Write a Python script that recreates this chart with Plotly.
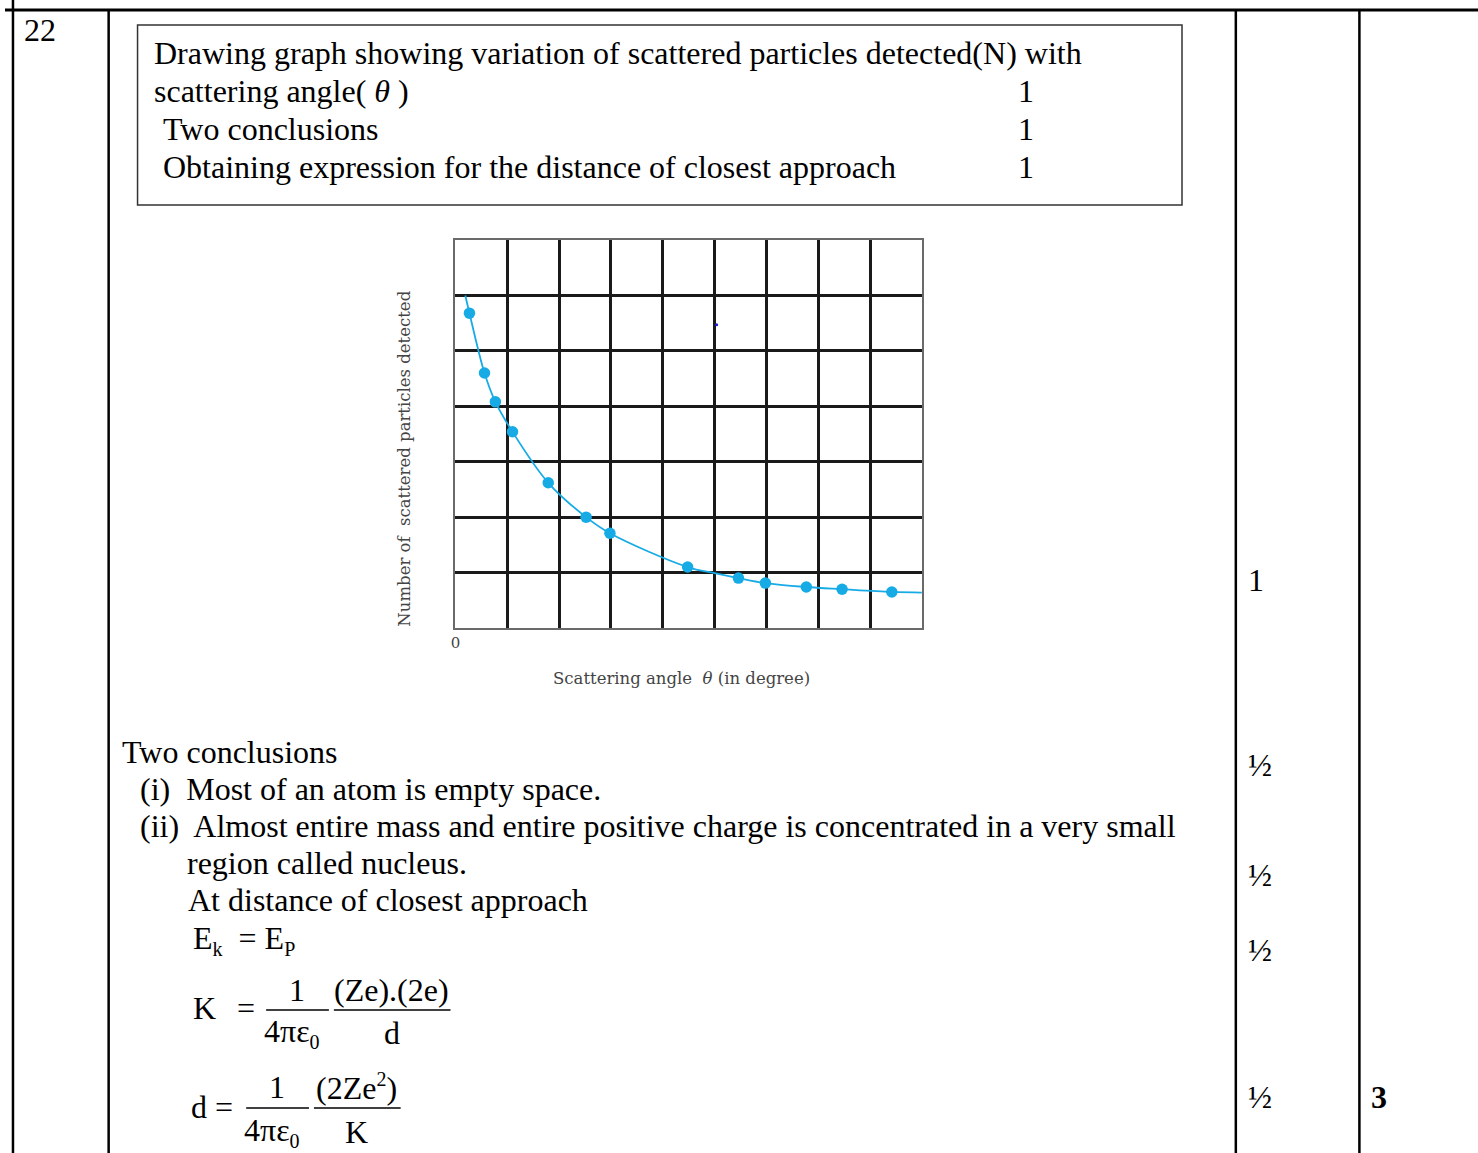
import plotly.graph_objects as go

# ---------------- data (grid units) ----------------
theta_pts = [0.27, 0.56, 0.77, 1.10, 1.79, 2.52, 2.98, 4.48, 5.46, 5.98, 6.77, 7.46, 8.42]
n_pts = [5.68, 4.60, 4.08, 3.54, 2.62, 2.00, 1.71, 1.10, 0.90, 0.81, 0.74, 0.70, 0.65]

theta_curve = [0.19, 0.27, 0.56, 0.77, 1.10, 1.79, 2.52, 2.98, 4.48, 5.00, 5.46, 5.98, 6.77, 7.46, 8.42, 9.00]
n_curve = [6.00, 5.68, 4.60, 4.08, 3.54, 2.62, 2.00, 1.71, 1.10, 0.99, 0.90, 0.81, 0.74, 0.70, 0.65, 0.64]

x_tick_vals = [0, 1, 2, 3, 4, 5, 6, 7, 8, 9]
x_tick_text = ["0", "", "", "", "", "", "", "", "", ""]
y_tick_vals = [0, 1, 2, 3, 4, 5, 6, 7]

stray_x = [5.04]
stray_y = [5.47]

W, H = 1478, 1153
SERIF = "Liberation Serif, Times New Roman, serif"
CHART_FONT = "DejaVu Serif, serif"
BLUE = "#17ABE6"
FS = 32


def px(x):
    return x / W


def py(y):
    return 1 - y / H


fig = go.Figure()

fig.add_trace(go.Scatter(
    x=theta_curve, y=n_curve, mode="lines",
    line=dict(color=BLUE, width=1.8, shape="spline", smoothing=1.0),
    hoverinfo="skip", showlegend=False))
fig.add_trace(go.Scatter(
    x=theta_pts, y=n_pts, mode="markers",
    marker=dict(color=BLUE, size=11.5), showlegend=False))
fig.add_trace(go.Scatter(
    x=stray_x, y=stray_y, mode="markers",
    marker=dict(color="#2020e0", size=3), showlegend=False))

fig.update_xaxes(
    domain=[px(452), px(920)], range=[0, 9],
    tickvals=x_tick_vals, ticktext=x_tick_text, ticks="",
    tickfont=dict(family=CHART_FONT, size=15, color="#444"),
    showgrid=True, gridcolor="#1a1a1a", gridwidth=2.5,
    showline=True, mirror=True, linecolor="#6a6a6a", linewidth=2,
    zeroline=False, fixedrange=True)
fig.update_yaxes(
    domain=[py(628), py(240)], range=[0, 7],
    tickvals=y_tick_vals, showticklabels=False, ticks="",
    showgrid=True, gridcolor="#1a1a1a", gridwidth=2.5,
    showline=True, mirror=True, linecolor="#6a6a6a", linewidth=2,
    zeroline=False, fixedrange=True)

ann = []
DX = 5  # annotation box padding compensation


def text(x, y, s, size=FS, family=SERIF, color="black", anchor="left", angle=0):
    xx = x - DX if anchor == "left" else x
    ann.append(dict(x=px(xx), y=py(y), xref="paper", yref="paper", text=s,
                    showarrow=False, xanchor=anchor, yanchor="middle",
                    textangle=angle,
                    font=dict(family=family, size=size, color=color)))


def sub(s):
    return "<sub><span style='font-size:20px'>" + s + "</span></sub>"


# question number
text(22, 30, "22")

# marking scheme box
text(153, 53, "Drawing graph showing variation of scattered particles detected(N) with")
text(153, 91, "scattering angle( <i>θ</i> )")
text(162, 129, "Two conclusions")
text(162, 167, "Obtaining expression for the distance of closest approach")
for yy in (91, 129, 167):
    text(1019, yy, "1")

# chart labels
text(400, 459, "Number of  scattered particles detected", size=16.5, family=CHART_FONT,
     color="#444", anchor="center", angle=-90)
text(679, 678, "Scattering angle  <i>θ</i> (in degree)", size=16.5, family=CHART_FONT,
     color="#444", anchor="center")

# conclusions
text(120, 752, "Two conclusions")
text(138, 789, "(i)  Most of an atom is empty space.")
text(138, 826, "(ii)  Almost entire mass and entire positive charge is concentrated in a very small")
text(186, 863, "region called nucleus.")
text(187, 900, "At distance of closest approach")
text(192, 940, "E" + sub("k") + "  = E" + sub("P"))

# K = 1/(4πε0) (Ze)(2e)/d
text(192, 1008, "K")
text(236, 1008, "=")
text(293, 990, "1", anchor="center")
text(263, 1033, "4πε" + sub("0"))
text(388, 990, "(Ze).(2e)", anchor="center")
text(388, 1033, "d", anchor="center")

# d = 1/(4πε0) (2Ze^2)/K
text(190, 1107, "d =")
text(273, 1087, "1", anchor="center")
text(243, 1132, "4πε" + sub("0"))
text(353, 1087, "(2Ze<sup><span style='font-size:20px'>2</span></sup>)", anchor="center")
text(353, 1132, "K", anchor="center")

# marks column
text(1250, 580, "1")
for yy in (765, 875, 950, 1097):
    text(1250, yy, "½")
text(1374, 1097, "<b>3</b>")

shapes = []


def line(x0, y0, x1, y1, width=2.5, color="black"):
    shapes.append(dict(type="line", xref="paper", yref="paper",
                       x0=px(x0), y0=py(y0), x1=px(x1), y1=py(y1),
                       line=dict(color=color, width=width)))


# table rules
line(0, 10, W, 10, 3)
line(8, 0, 8, H, 2.5)
line(104, 10, 104, H, 2.5)
line(1235, 10, 1235, H, 2.5)
line(1359, 10, 1359, H, 2.5)

# box around the scheme
shapes.append(dict(type="rect", xref="paper", yref="paper",
                   x0=px(133), y0=py(205), x1=px(1181), y1=py(25),
                   line=dict(color="#333", width=1.5)))

# fraction bars
line(262, 1010, 325, 1010, 1.5)
line(330, 1010, 447, 1010, 1.5)
line(242, 1108, 305, 1108, 1.5)
line(310, 1108, 397, 1108, 1.5)

fig.update_layout(
    width=W, height=H, autosize=False,
    margin=dict(l=0, r=0, t=0, b=0),
    paper_bgcolor="white", plot_bgcolor="white",
    showlegend=False, annotations=ann, shapes=shapes)

fig.write_html("out.html", config={"displayModeBar": False},
               post_script="document.body.style.margin='0';document.body.style.overflow='hidden';")
